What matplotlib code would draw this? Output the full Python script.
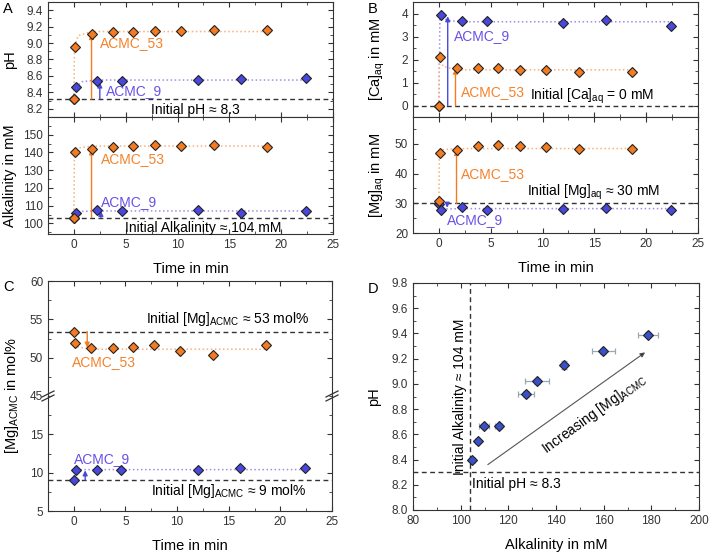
# %% Dissolution of ACMC: pH, alkalinity, [Ca], [Mg] over time + pH vs alkalinity

import matplotlib
matplotlib.use('Agg')
import matplotlib.pyplot as plt
from matplotlib.ticker import MultipleLocator

plt.rcParams['font.family'] = ['Liberation Sans', 'DejaVu Sans']
plt.rcParams['axes.edgecolor'] = '#333333'
plt.rcParams['axes.linewidth'] = 0.8

# %% Data

# Sampling times in min (first value = initial solution)
t_53 = [0.0, 0.1, 1.7, 3.8, 5.7, 7.8, 10.3, 13.5, 18.6]
t_9 = [0.0, 0.2, 2.2, 4.6, 12.0, 16.1, 22.4]

ph_53 = [8.32, 8.95, 9.11, 9.14, 9.14, 9.15, 9.15, 9.16, 9.16]
ph_9 = [8.32, 8.47, 8.54, 8.54, 8.55, 8.56, 8.57]
alk_53 = [103.0, 140.4, 141.7, 143.3, 143.9, 144.4, 143.9, 144.3, 143.3]
alk_9 = [103.0, 105.6, 107.5, 106.8, 107.5, 106.0, 106.8]
ca_53 = [0.0, 2.11, 1.65, 1.65, 1.62, 1.55, 1.53, 1.47, 1.47]
ca_9 = [0.0, 3.93, 3.67, 3.67, 3.60, 3.72, 3.46]
mg_53 = [30.7, 47.0, 47.9, 49.2, 49.7, 49.2, 48.9, 48.3, 48.3]
mg_9 = [29.7, 27.8, 28.6, 27.9, 28.1, 28.3, 27.8]
mgacmc_53 = [53.4, 51.9, 51.2, 51.2, 51.4, 51.7, 50.9, 50.4, 51.6]
mgacmc_9 = [9.0, 10.4, 10.4, 10.4, 10.4, 10.6, 10.6]

# Dotted guide curves
tg_53 = [0.0, 0.05, 0.4, 1.7, 18.6]
tg_9 = [0.0, 0.1, 0.8, 2.2, 22.4]
ph53_g = [8.32, 8.95, 9.09, 9.14, 9.14]
ph9_g = [8.32, 8.46, 8.53, 8.55, 8.55]
alk53_g = [103.0, 140.4, 142.5, 143.6, 143.6]
alk9_g = [103.0, 105.6, 106.8, 107.0, 107.0]
ca53_g = [0.0, 2.11, 1.70, 1.55, 1.55]
ca9_g = [0.0, 3.93, 3.70, 3.64, 3.64]
mg53_g = [30.7, 47.0, 48.0, 48.4, 48.4]
mg9_g = [29.7, 27.8, 28.1, 28.2, 28.2]
mgacmc53_g = [53.4, 51.9, 51.4, 51.1, 51.1]
mgacmc9_g = [9.0, 10.4, 10.4, 10.4, 10.4]

# Initial values
ph_init = 8.32
alk_init = 103.3
ca_init = 0.0
mg_init = 30.0
mgacmc53_init = 53.4
mgacmc9_init = 9.05

# Panel D
alk_d = [104.9, 107.1, 109.9, 116.0, 127.4, 132.0, 143.4, 159.9, 178.5]
ph_d = [8.40, 8.55, 8.67, 8.67, 8.92, 9.02, 9.15, 9.26, 9.39]
alk_d_err = [1.0, 1.0, 2.0, 1.5, 3.5, 5.2, 1.0, 4.7, 4.2]
ph_d_err = [0.01, 0.01, 0.01, 0.01, 0.02, 0.02, 0.03, 0.02, 0.02]
alk_d_init = 104
ph_d_init = 8.3

# %% Styles

c53 = '#F47B20'
c9 = '#4848DE'
c53_txt = '#F5822A'
c9_txt = '#6A50E6'
c53_dot = '#F9B07A'
c9_dot = '#A28CEA'
cD = '#3A50C8'
fs_tick = 8.5
fs_lab = 10.5
fs_ann = 10


def style(ax, xmin=2.5, ymin=None):
    ax.tick_params(which='both', direction='in', top=True, right=True,
                   labelsize=fs_tick, colors='#333333')
    ax.tick_params(which='major', length=3.5)
    ax.tick_params(which='minor', length=2)
    ax.xaxis.set_minor_locator(MultipleLocator(xmin))
    if ymin is not None:
        ax.yaxis.set_minor_locator(MultipleLocator(ymin))


def scatter(ax, t, y, color):
    ax.plot(t, y, ls='none', marker='D', ms=5.3, mfc=color, mec='#222222', mew=0.8, zorder=4)


def guide(ax, t, y, color):
    ax.plot(t, y, ls=':', lw=1.1, color=color, zorder=2)


def arrow(ax, x, y0, y1, color):
    ax.annotate('', xy=(x, y1), xytext=(x, y0),
                arrowprops=dict(arrowstyle='-|>', color=color, lw=1.0,
                                mutation_scale=7, shrinkA=0, shrinkB=0), zorder=3)


def hline(ax, y):
    ax.axhline(y, ls='--', color='#333333', lw=1.0, dashes=(3.5, 2.5), zorder=1)


W, H = 711, 554
fig = plt.figure(figsize=(W / 100, H / 100), dpi=100)


def axes_px(left, top, right, bottom):
    return fig.add_axes([left / W, 1 - bottom / H, (right - left) / W, (bottom - top) / H])


# %% Panel A

axA1 = axes_px(48, 2, 333, 117)
axA2 = axes_px(48, 117, 333, 234)

guide(axA1, tg_9, ph9_g, c9_dot)
guide(axA1, tg_53, ph53_g, c53_dot)
scatter(axA1, t_9, ph_9, c9)
scatter(axA1, t_53, ph_53, c53)
hline(axA1, ph_init)
arrow(axA1, t_53[2], ph_init, ph_53[2], c53)
arrow(axA1, 2.5, ph_init, ph_9[2] - 0.02, c9)
axA1.text(2.5, 9.0, 'ACMC_53', color=c53_txt, fontsize=fs_ann, va='center')
axA1.text(3.1, 8.42, 'ACMC_9', color=c9_txt, fontsize=fs_ann, va='center')
axA1.text(11.7, 8.185, 'Initial pH ≈ 8.3', fontsize=fs_ann, ha='center', va='center')
axA1.set_xlim(-2.5, 25)
axA1.set_ylim(8.1, 9.5)
axA1.yaxis.set_major_locator(MultipleLocator(0.2))
axA1.yaxis.set_major_formatter(plt.FormatStrFormatter('%.1f'))
style(axA1, ymin=0.1)
axA1.tick_params(labelbottom=False)
axA1.set_ylabel('pH', fontsize=fs_lab)

guide(axA2, tg_9, alk9_g, c9_dot)
guide(axA2, tg_53, alk53_g, c53_dot)
scatter(axA2, t_9, alk_9, c9)
scatter(axA2, t_53, alk_53, c53)
hline(axA2, alk_init)
arrow(axA2, t_53[2], alk_init, alk_53[2], c53)
arrow(axA2, 2.6, alk_init, alk_9[2] - 0.5, c9)
axA2.text(2.6, 136.5, 'ACMC_53', color=c53_txt, fontsize=fs_ann, va='center')
axA2.text(2.6, 112, 'ACMC_9', color=c9_txt, fontsize=fs_ann, va='center')
axA2.text(12.5, 97.4, 'Initial Alkalinity ≈ 104 mM', fontsize=fs_ann, ha='center', va='center')
axA2.set_xlim(-2.5, 25)
axA2.set_ylim(94, 160)
axA2.set_yticks([100, 110, 120, 130, 140, 150])
style(axA2, ymin=5)
axA2.set_ylabel('Alkalinity in mM', fontsize=fs_lab)
axA2.set_xlabel('Time in min', fontsize=fs_lab, labelpad=8)
axA1.yaxis.set_label_coords(-0.11, 0.5)
axA2.yaxis.set_label_coords(-0.11, 0.5)

# %% Panel B

axB1 = axes_px(413, 2, 698, 117)
axB2 = axes_px(413, 117, 698, 233)

guide(axB1, tg_9, ca9_g, c9_dot)
guide(axB1, tg_53, ca53_g, c53_dot)
scatter(axB1, t_9, ca_9, c9)
scatter(axB1, t_53, ca_53, c53)
hline(axB1, ca_init)
arrow(axB1, 0.85, ca_init, ca_9[1] - 0.05, c9)
arrow(axB1, 1.6, ca_init, ca_53[2] - 0.05, c53)
axB1.text(1.45, 3.03, 'ACMC_9', color=c9_txt, fontsize=fs_ann, va='center')
axB1.text(2.1, 0.6, 'ACMC_53', color=c53_txt, fontsize=fs_ann, va='center')
axB1.text(8.8, 0.38, r'Initial [Ca]$_\mathregular{aq}$ = 0 mM', fontsize=fs_ann, va='center')
axB1.set_xlim(-2.5, 25)
axB1.set_ylim(-0.5, 4.5)
axB1.set_yticks([0, 1, 2, 3, 4])
style(axB1, ymin=0.5)
axB1.tick_params(labelbottom=False)
axB1.set_ylabel(r'[Ca]$_\mathregular{aq}$ in mM', fontsize=fs_lab)

guide(axB2, tg_9, mg9_g, c9_dot)
guide(axB2, tg_53, mg53_g, c53_dot)
scatter(axB2, t_9, mg_9, c9)
scatter(axB2, t_53, mg_53, c53)
hline(axB2, mg_init)
arrow(axB2, t_53[2], mg_init, mg_53[2], c53)
arrow(axB2, 0.8, mg_init, mg9_g[-1] + 0.3, c9)
axB2.text(2.1, 39.8, 'ACMC_53', color=c53_txt, fontsize=fs_ann, va='center')
axB2.text(0.75, 24.4, 'ACMC_9', color=c9_txt, fontsize=fs_ann, va='center')
axB2.text(8.5, 33.5, r'Initial [Mg]$_\mathregular{aq}$ ≈ 30 mM', fontsize=fs_ann, va='center')
axB2.set_xlim(-2.5, 25)
axB2.set_ylim(20, 59)
axB2.set_yticks([20, 30, 40, 50])
style(axB2, ymin=5)
axB2.set_ylabel(r'[Mg]$_\mathregular{aq}$ in mM', fontsize=fs_lab)
axB2.set_xlabel('Time in min', fontsize=fs_lab, labelpad=8)
axB1.yaxis.set_label_coords(-0.09, 0.5)
axB2.yaxis.set_label_coords(-0.09, 0.5)

# %% Panel C (broken y axis)

axC1 = axes_px(48, 281, 332, 396)
axC2 = axes_px(48, 396, 332, 511)

guide(axC1, tg_53, mgacmc53_g, c53_dot)
scatter(axC1, t_53, mgacmc_53, c53)
hline(axC1, mgacmc53_init)
arrow(axC1, 1.3, mgacmc53_init, mgacmc_53[2] + 0.1, c53)
axC1.text(-0.15, 49.4, 'ACMC_53', color=c53_txt, fontsize=fs_ann, va='center')
axC1.text(7.0, 55.0, r'Initial [Mg]$_\mathregular{ACMC}$ ≈ 53 mol%', fontsize=fs_ann, va='center')
axC1.set_xlim(-2.5, 25)
axC1.set_ylim(45, 60)
axC1.set_yticks([45, 50, 55, 60])
style(axC1, ymin=2.5)
axC1.spines['bottom'].set_visible(False)
axC1.tick_params(which='both', bottom=False, labelbottom=False)

guide(axC2, tg_9, mgacmc9_g, c9_dot)
scatter(axC2, t_9, mgacmc_9, c9)
hline(axC2, mgacmc9_init)
arrow(axC2, 1.1, mgacmc9_init, mgacmc_9[1] - 0.1, c9)
axC2.text(0.0, 11.8, 'ACMC_9', color=c9_txt, fontsize=fs_ann, va='center')
axC2.text(7.5, 7.6, r'Initial [Mg]$_\mathregular{ACMC}$ ≈ 9 mol%', fontsize=fs_ann, va='center')
axC2.set_xlim(-2.5, 25)
axC2.set_ylim(5, 20)
axC2.set_yticks([5, 10, 15])
style(axC2, ymin=2.5)
axC2.spines['top'].set_visible(False)
axC2.tick_params(which='both', top=False)
axC2.set_xlabel('Time in min', fontsize=fs_lab, labelpad=8)

# break marks "//" on both spines
for xpx in (48, 332):
    for dy in (-2, 2):
        fig.add_artist(plt.Line2D([(xpx - 6) / W, (xpx + 6) / W],
                                  [1 - (396 + dy + 3) / H, 1 - (396 + dy - 3) / H],
                                  color='#333333', lw=0.9))
fig.text(12 / W, 1 - 396 / H, r'[Mg]$_\mathregular{ACMC}$ in mol%', rotation=90,
         fontsize=fs_lab, ha='center', va='center')

# %% Panel D

axD = axes_px(413, 283, 699, 510)
axD.errorbar(alk_d, ph_d, xerr=alk_d_err, yerr=ph_d_err, ls='none', ecolor='#9AA8B4',
             elinewidth=0.9, capsize=2, capthick=0.9, zorder=3)
axD.plot(alk_d, ph_d, ls='none', marker='D', ms=5.3, mfc=cD, mec='#222222', mew=0.8, zorder=4)
axD.axvline(alk_d_init, ls='--', color='#333333', lw=1.0, dashes=(3.5, 2.5))
axD.axhline(ph_d_init, ls='--', color='#333333', lw=1.0, dashes=(3.5, 2.5))
axD.text(102.5, 8.9, 'Initial Alkalinity ≈ 104 mM', rotation=90, fontsize=fs_ann,
         ha='right', va='center')
axD.text(104.7, 8.21, 'Initial pH ≈ 8.3', fontsize=fs_ann, va='center')
axD.annotate('', xy=(177.4, 9.25), xytext=(111.4, 8.36),
             arrowprops=dict(arrowstyle='-|>', color='#555555', lw=0.8,
                             mutation_scale=7, shrinkA=0, shrinkB=0, fc='#222222'))
axD.text(156, 8.76, r'Increasing [Mg]$_\mathregular{ACMC}$', rotation=36, fontsize=fs_ann,
         ha='center', va='center', rotation_mode='anchor')
axD.set_xlim(80, 200)
axD.set_ylim(8.0, 9.8)
axD.xaxis.set_major_locator(MultipleLocator(20))
axD.yaxis.set_major_locator(MultipleLocator(0.2))
axD.yaxis.set_major_formatter(plt.FormatStrFormatter('%.1f'))
style(axD, xmin=10, ymin=0.1)
axD.set_xlabel('Alkalinity in mM', fontsize=fs_lab, labelpad=8)
axD.set_ylabel('pH', fontsize=fs_lab)
axD.yaxis.set_label_coords(-0.11, 0.5)

# %% Panel letters

for lab, (x, y) in {'A': (8, 9), 'B': (373, 9), 'C': (8, 287), 'D': (373, 289)}.items():
    fig.text(x / W, 1 - y / H, lab, fontsize=10.5, ha='center', va='center')

fig.savefig('out.png', dpi=100)
